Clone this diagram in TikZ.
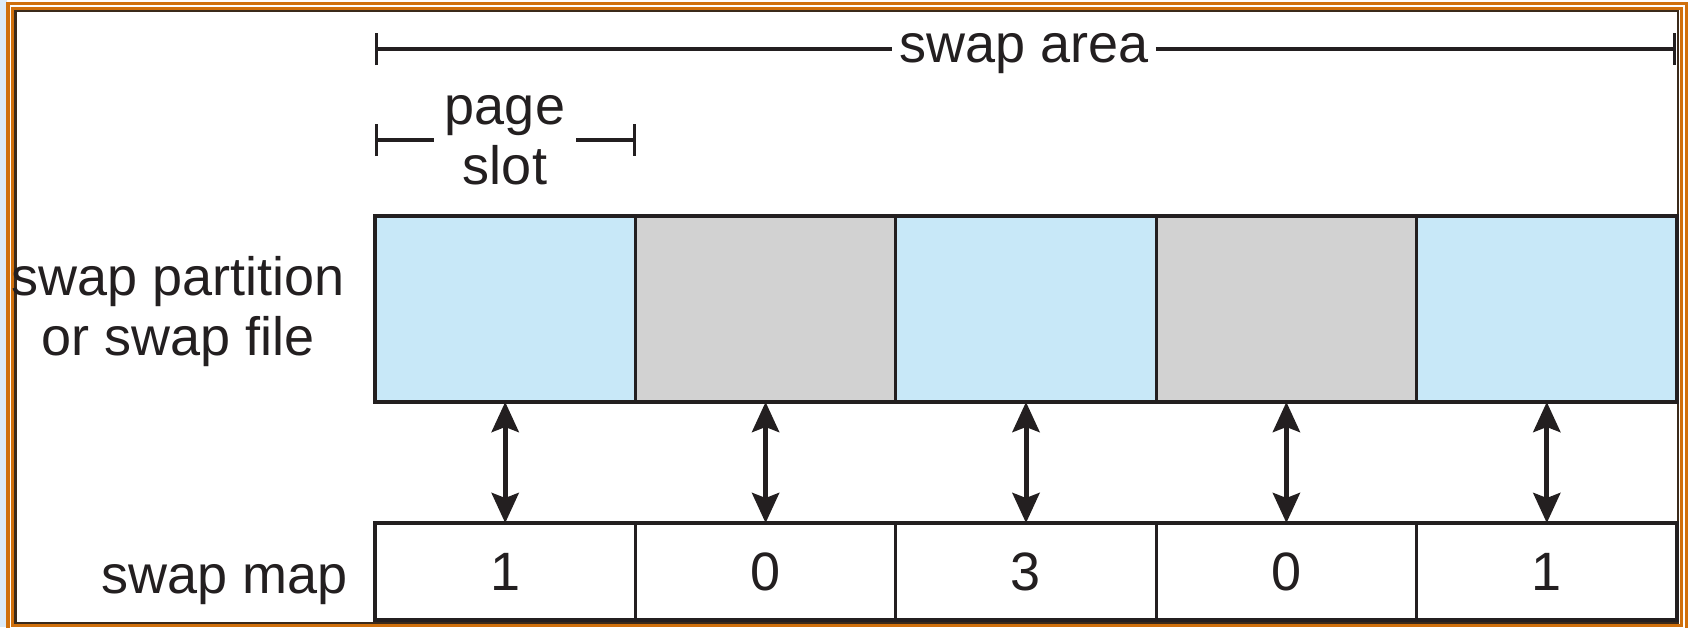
\documentclass[tikz,border=0pt]{standalone}
\usepackage{fontspec}
\setmainfont{Liberation Sans}
\usetikzlibrary{arrows.meta}
\definecolor{cellblue}{HTML}{C8E8F8}
\definecolor{cellgray}{HTML}{D2D2D2}
\definecolor{frameorange}{HTML}{D0700C}
\definecolor{framedark}{HTML}{3B2A1A}
\definecolor{ink}{HTML}{231F20}
\definecolor{edgeblue}{HTML}{DCEBF8}
\newcommand{\diagfont}{\fontsize{54pt}{60pt}\selectfont}
\begin{document}
\begin{tikzpicture}[x=1pt,y=-1pt,
  cell/.style={draw=ink, line width=3.2pt, minimum width=260.4pt, inner sep=0pt, outer sep=0pt},
  part/.style={cell, minimum height=186pt},
  mapcell/.style={cell, minimum height=97pt, fill=white, font=\diagfont, text=ink},
  lbl/.style={font=\diagfont, text=ink, inner sep=0pt},
  dimline/.style={draw=ink, line width=3.4pt},
  link/.style={draw=ink, line width=5pt,
    {Stealth[length=30pt,width=27pt,inset=5pt]}-{Stealth[length=30pt,width=27pt,inset=5pt]}}
]
\useasboundingbox (0,0) rectangle (1690,627);
% frame
\fill[white] (0,0) rectangle (1690,627);
\fill[edgeblue] (0,0) rectangle (6.5,627);
\draw[frameorange, line width=3.5pt] (8,3.5) rectangle (1686.5,632);
\draw[frameorange, line width=3.5pt] (13,8.5) rectangle (1681.5,625.5);
\draw[framedark, line width=2.5pt] (15.5,11) rectangle (1678,623);
% partition cells
\node[part, fill=cellblue] (p1) at (505.2,309) {};
\node[part, fill=cellgray] (p2) at (765.6,309) {};
\node[part, fill=cellblue] (p3) at (1026.0,309) {};
\node[part, fill=cellgray] (p4) at (1286.4,309) {};
\node[part, fill=cellblue] (p5) at (1546.8,309) {};
% map cells
\node[mapcell] (m1) at (505.2,571.5) {1};
\node[mapcell] (m2) at (765.6,571.5) {0};
\node[mapcell] (m3) at (1026.0,571.5) {3};
\node[mapcell] (m4) at (1286.4,571.5) {0};
\node[mapcell] (m5) at (1546.8,571.5) {1};
% links
\foreach \i in {1,...,5} \draw[link] (p\i.south) -- (m\i.north);
% labels
\node[lbl, align=center, anchor=base] (splbl) at (178,355) {swap partition\\or swap file};
\node[lbl, anchor=base east] (smlbl) at (348,593) {swap map};
% swap area dimension
\coordinate (sal) at (375,49);
\coordinate (sar) at (1676,49);
\node[lbl, inner xsep=7pt, anchor=base] (salbl) at (1024,62) {swap area};
\draw[dimline, {Bar[width=32pt]}-] (sal) -- (salbl.west |- sal);
\draw[dimline, -{Bar[width=32pt]}] (salbl.east |- sar) -- (sar);
% page slot dimension
\coordinate (psl) at (375,140);
\coordinate (psr) at (636,140);
\node[lbl, align=center, anchor=base, inner xsep=11pt] (pslbl) at (505,184) {page\\slot};
\draw[dimline, {Bar[width=32pt]}-] (psl) -- (pslbl.west |- psl);
\draw[dimline, -{Bar[width=32pt]}] (pslbl.east |- psr) -- (psr);
\end{tikzpicture}
\end{document}
